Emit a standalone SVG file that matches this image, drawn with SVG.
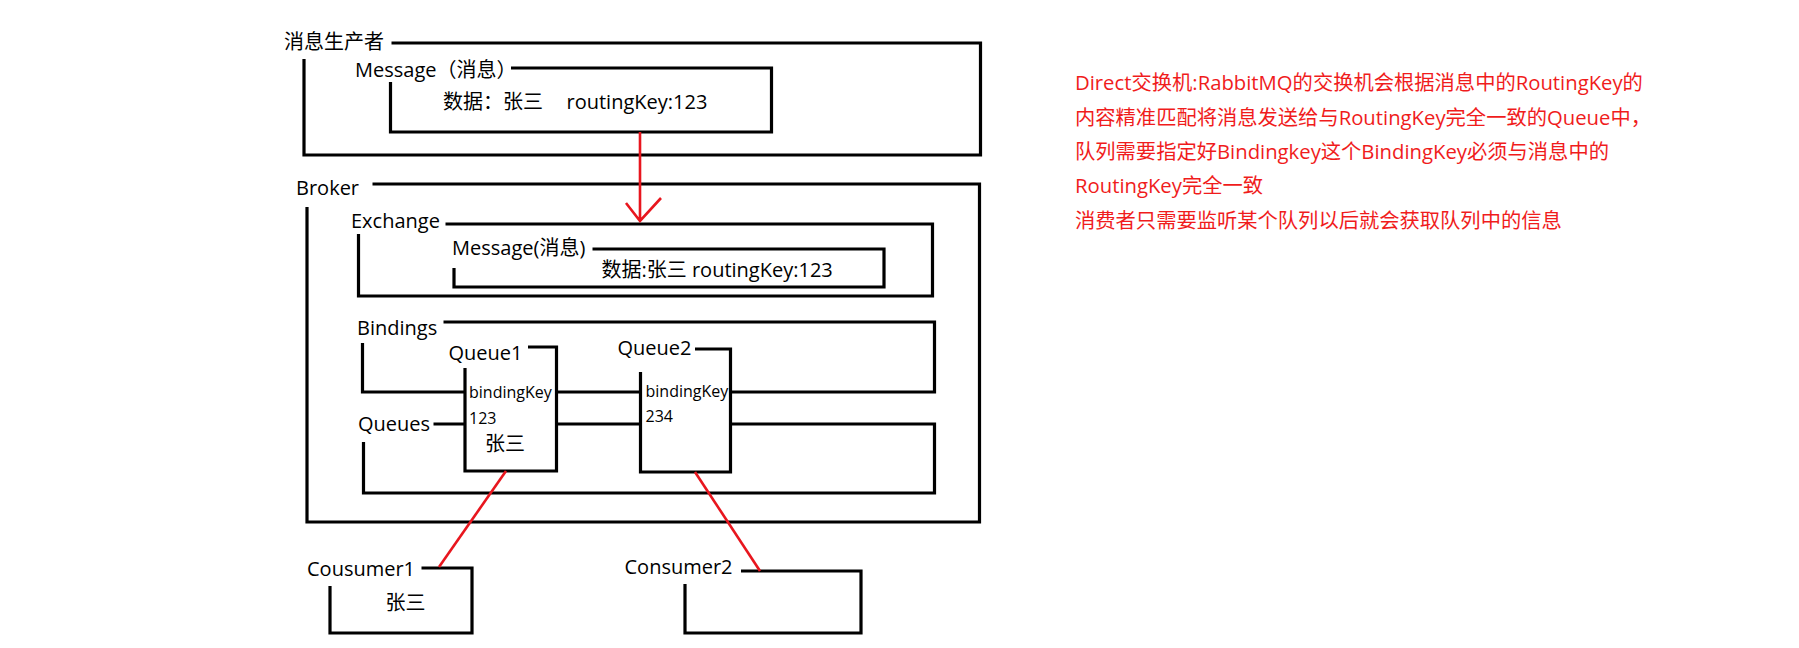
<svg xmlns="http://www.w3.org/2000/svg" width="1799" height="648" viewBox="0 0 1799 648">
<style>
.frame{fill:none;stroke:#000;stroke-width:3.2;stroke-linejoin:miter}
.red{fill:none;stroke:#e8161e;stroke-width:2.6}
.t{font-family:"Open Sans","Noto Sans CJK SC",sans-serif;font-size:20px;fill:#000}
.s{font-family:"Open Sans","Noto Sans CJK SC",sans-serif;font-size:16px;fill:#000}
.note{font-family:"Open Sans","Noto Sans CJK SC",sans-serif;font-size:20.3px;fill:#f01c1c}
</style>
<rect width="1799" height="648" fill="#fff"/>
<g id="producer">
<path class="frame" d="M391.5 43 H980.5 V155 H304 V59"/>
<text class="t" x="284" y="49">消息生产者</text>
</g>
<g id="producer-message">
<path class="frame" d="M511 68 H771.5 V132 H390.5 V82"/>
<text class="t" x="355" y="77">Message（消息）</text>
<text class="t" y="109"><tspan x="443">数据：张三</tspan><tspan x="566.5">routingKey:123</tspan></text>
</g>
<g id="broker">
<path class="frame" d="M372.5 184 H979.5 V522 H307 V207"/>
<text class="t" x="296" y="195">Broker</text>
</g>
<g id="exchange">
<path class="frame" d="M445.5 224 H932.5 V296 H358.5 V234"/>
<text class="t" x="351" y="228">Exchange</text>
</g>
<g id="exchange-message">
<path class="frame" d="M592.5 249 H884 V287 H454 V268"/>
<text class="t" x="452" y="255">Message(消息)</text>
<text class="t" x="601.5" y="277">数据:张三 routingKey:123</text>
</g>
<g id="bindings">
<path class="frame" d="M443.5 322 H934.5 V392 H730.5 M640.5 392 H556.5 M465 392 H362.5 V343"/>
<text class="t" x="357" y="335">Bindings</text>
</g>
<g id="queues">
<path class="frame" d="M433.5 424 H465 M556.5 424 H640.5 M730.5 424 H934.5 V493 H363.5 V442"/>
<text class="t" x="358" y="431">Queues</text>
</g>
<g id="queue1">
<path class="frame" d="M528 347 H556.5 V471 H465 V368"/>
<text class="t" x="448.5" y="360">Queue1</text>
<text class="s" x="469" y="398">bindingKey</text>
<text class="s" x="469" y="424">123</text>
<text class="t" x="485" y="451">张三</text>
</g>
<g id="queue2">
<path class="frame" d="M695 349 H730.5 V472 H640.5 V372"/>
<text class="t" x="617.5" y="355">Queue2</text>
<text class="s" x="645.5" y="397">bindingKey</text>
<text class="s" x="645.5" y="422">234</text>
</g>
<g id="consumer1">
<path class="frame" d="M421.5 568 H472 V633 H330 V586"/>
<text class="t" x="307" y="576">Cousumer1</text>
<text class="t" x="385.5" y="610">张三</text>
</g>
<g id="consumer2">
<path class="frame" d="M741 571 H861 V633 H685 V584"/>
<text class="t" x="624.5" y="574">Consumer2</text>
</g>
<g id="connectors">
<path class="red" d="M640 132 V221 M626 203 L640 221 L661 198"/>
<path class="red" d="M506 471 L439 567"/>
<path class="red" d="M695 472 L760 571"/>
</g>
<g id="note">
<text class="note" x="1075" y="90">Direct交换机:RabbitMQ的交换机会根据消息中的RoutingKey的</text>
<text class="note" x="1075" y="125">内容精准匹配将消息发送给与RoutingKey完全一致的Queue中，</text>
<text class="note" x="1075" y="159">队列需要指定好Bindingkey这个BindingKey必须与消息中的</text>
<text class="note" x="1075" y="193">RoutingKey完全一致</text>
<text class="note" x="1075" y="228">消费者只需要监听某个队列以后就会获取队列中的信息</text>
</g>
</svg>
